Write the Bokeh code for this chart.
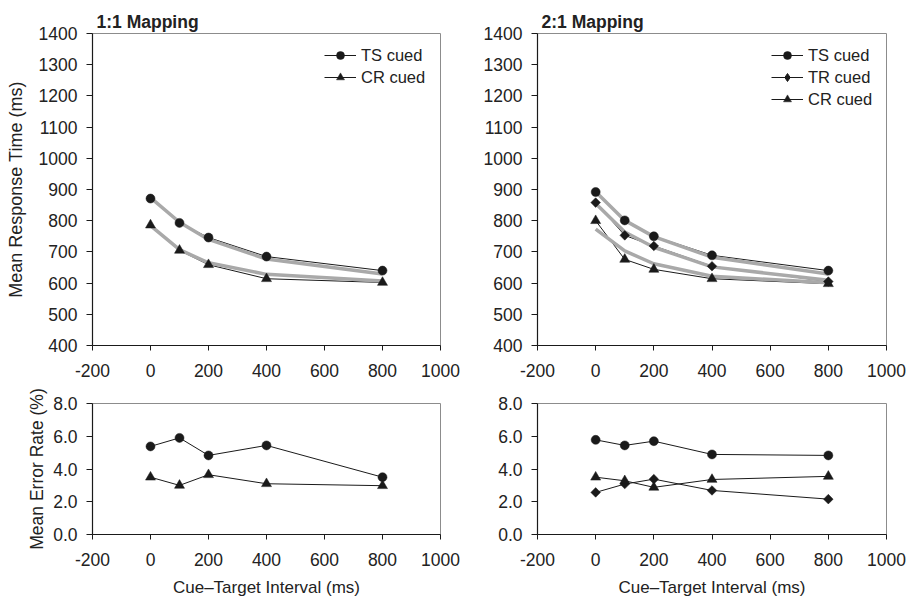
import math
from bokeh.plotting import figure
from bokeh.layouts import column, row
from bokeh.models import FixedTicker, Range1d, Legend, LegendItem, Title, PrintfTickFormatter
from bokeh.embed import file_html
from bokeh.resources import INLINE

# ---------------- data ----------------
cti = [0, 100, 200, 400, 800]
x_ticks = [-200, 0, 200, 400, 600, 800, 1000]
rt_ticks = [400, 500, 600, 700, 800, 900, 1000, 1100, 1200, 1300, 1400]
er_ticks = [0, 2, 4, 6, 8]

# 1:1 mapping, response time (observed and model fit)
rt11_ts = [871, 793, 746, 685, 640]
rt11_cr = [786, 705, 659, 614, 602]
fit11_ts = [874, 795, 740, 677, 629]
fit11_cr = [784, 707, 665, 628, 607]

# 2:1 mapping, response time
rt21_ts = [892, 801, 750, 689, 640]
rt21_tr = [858, 753, 719, 654, 605]
rt21_cr = [800, 676, 644, 614, 598]
fit21_ts = [893, 801, 749, 683, 629]
fit21_tr = [855, 764, 715, 652, 609]
fit21_cr = [773, 703, 662, 622, 601]

# error rates
er11_ts = [5.38, 5.9, 4.83, 5.44, 3.5]
er11_cr = [3.5, 3.0, 3.65, 3.1, 2.98]
er21_ts = [5.78, 5.44, 5.7, 4.89, 4.83]
er21_tr = [2.57, 3.08, 3.38, 2.69, 2.16]
er21_cr = [3.5, 3.28, 2.88, 3.36, 3.55]

FONT = "Liberation Sans"
TXT = "#222222"
INK = "#1a1a1a"
GRAY = "#a9a9a9"

MARK = {
    "circle": dict(marker="circle", size=9, angle=0),
    "triangle": dict(marker="triangle", size=10, angle=0),
    "diamond": dict(marker="square", size=6.8, angle=math.pi / 4),
}


def make_fig(width, height, bl, br, bt, bb, fw, fh, yr, yticks, fmt):
    p = figure(width=width, height=height, frame_width=fw, frame_height=fh,
               x_range=Range1d(-200, 1000), y_range=Range1d(*yr),
               toolbar_location=None, output_backend="svg",
               min_border_left=bl, min_border_right=br,
               min_border_top=bt, min_border_bottom=bb)
    p.grid.visible = False
    p.outline_line_color = "#8c8c8c"
    p.outline_line_width = 1
    p.background_fill_color = "white"
    p.border_fill_color = "white"
    for ax in (p.xaxis[0], p.yaxis[0]):
        ax.axis_line_color = INK
        ax.axis_line_width = 1.2
        ax.major_tick_line_color = INK
        ax.major_tick_in = 0
        ax.minor_tick_line_color = None
        ax.major_label_text_font = FONT
        ax.major_label_text_font_size = "17.5px"
        ax.major_label_text_color = TXT
        ax.axis_label_text_font = FONT
        ax.axis_label_text_color = TXT
        ax.axis_label_text_font_style = "normal"
    p.xaxis.axis_label_text_font_size = "17px"
    p.yaxis.axis_label_text_font_size = "18px"
    p.xaxis.ticker = FixedTicker(ticks=x_ticks)
    p.yaxis.ticker = FixedTicker(ticks=yticks)
    p.xaxis.formatter = PrintfTickFormatter(format="%d")
    p.yaxis.formatter = PrintfTickFormatter(format=fmt)
    p.xaxis.major_tick_out = 5
    p.yaxis.major_tick_out = 6
    p.xaxis.major_label_standoff = 13
    p.yaxis.major_label_standoff = 9
    return p


def series(p, ys):
    return p.line(cti, ys, line_color=INK, line_width=1)


def marks(p, ys, mk):
    m = MARK[mk]
    return p.scatter(cti, ys, marker=m["marker"], size=m["size"], angle=m["angle"],
                     fill_color=INK, line_color=INK, line_width=0.5)


def fit(p, ys):
    p.line(cti, ys, line_color=GRAY, line_width=3.5)


def add_title(p, text):
    p.add_layout(Title(text=text, align="left", offset=4, standoff=4,
                       text_font=FONT, text_font_size="17.5px",
                       text_font_style="bold", text_color=TXT), "above")


def add_legend(p, items, loc):
    lg = Legend(items=items, location=loc, padding=0, margin=0,
                glyph_width=32, glyph_height=20, label_standoff=5, spacing=2,
                label_text_font=FONT, label_text_font_size="16.5px",
                label_text_color=TXT, border_line_color=None,
                background_fill_alpha=0)
    p.add_layout(lg)


# ---------------- top-left: 1:1 RT ----------------
p1 = make_fig(460, 384, 92, 20, 33, 39, 348, 312, (400, 1400), rt_ticks, "%d")
p1.yaxis.axis_label = "Mean Response Time (ms)"
p1.yaxis.axis_label_standoff = 10
add_title(p1, "1:1 Mapping")
l_ts = series(p1, rt11_ts)
l_cr = series(p1, rt11_cr)
fit(p1, fit11_ts)
fit(p1, fit11_cr)
m_ts = marks(p1, rt11_ts, "circle")
m_cr = marks(p1, rt11_cr, "triangle")
add_legend(p1, [LegendItem(label="TS cued", renderers=[l_ts, m_ts]),
                LegendItem(label="CR cued", renderers=[l_cr, m_cr])], (232, 258))

# ---------------- top-right: 2:1 RT ----------------
p2 = make_fig(447, 384, 77, 21, 33, 39, 349, 312, (400, 1400), rt_ticks, "%d")
add_title(p2, "2:1 Mapping")
l_ts2 = series(p2, rt21_ts)
l_tr2 = series(p2, rt21_tr)
l_cr2 = series(p2, rt21_cr)
fit(p2, fit21_ts)
fit(p2, fit21_tr)
fit(p2, fit21_cr)
m_ts2 = marks(p2, rt21_ts, "circle")
m_tr2 = marks(p2, rt21_tr, "diamond")
m_cr2 = marks(p2, rt21_cr, "triangle")
# hidden diamond renderer used only for the legend swatch
m_tr2_key = p2.scatter(cti, rt21_tr, marker="diamond", size=12,
                       fill_color=INK, line_color=INK, visible=False)
add_legend(p2, [LegendItem(label="TS cued", renderers=[l_ts2, m_ts2]),
                LegendItem(label="TR cued", renderers=[l_tr2, m_tr2_key]),
                LegendItem(label="CR cued", renderers=[l_cr2, m_cr2])], (234, 236))

# ---------------- bottom-left: 1:1 error ----------------
p3 = make_fig(460, 216, 92, 20, 19, 66, 348, 131, (0, 8), er_ticks, "%.1f")
p3.yaxis.axis_label = "Mean Error Rate (%)"
p3.yaxis.axis_label_text_font_size = "17.5px"
p3.yaxis.axis_label_standoff = 3
p3.xaxis.axis_label = "Cue\u2013Target Interval (ms)"
p3.xaxis.axis_label_standoff = 9
series(p3, er11_ts)
series(p3, er11_cr)
marks(p3, er11_ts, "circle")
marks(p3, er11_cr, "triangle")

# ---------------- bottom-right: 2:1 error ----------------
p4 = make_fig(447, 216, 77, 21, 19, 66, 349, 131, (0, 8), er_ticks, "%.1f")
p4.xaxis.axis_label = "Cue\u2013Target Interval (ms)"
p4.xaxis.axis_label_standoff = 9
series(p4, er21_ts)
series(p4, er21_tr)
series(p4, er21_cr)
marks(p4, er21_ts, "circle")
marks(p4, er21_tr, "diamond")
marks(p4, er21_cr, "triangle")

layout = column(row(p1, p2, spacing=0), row(p3, p4, spacing=0), spacing=0)

open("out.html", "w").write(file_html(layout, INLINE))
